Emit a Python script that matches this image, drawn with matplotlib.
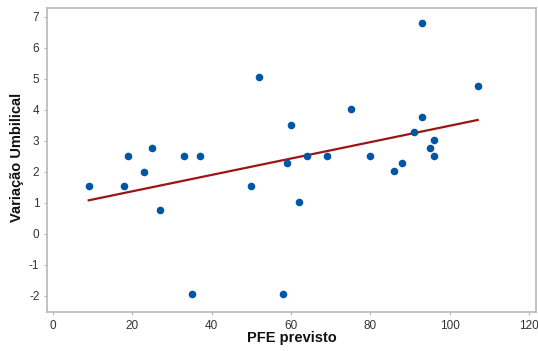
import numpy as np
import matplotlib
matplotlib.use("Agg")
import matplotlib.pyplot as plt

plt.rcParams['font.family'] = ['Liberation Sans', 'DejaVu Sans']
plt.rcParams['axes.unicode_minus'] = False

pfe = [9, 18, 19, 23, 25, 27, 33, 35, 37, 50, 52, 58, 59, 60, 62, 64, 69, 75,
       80, 86, 88, 91, 93, 93, 95, 96, 96, 107]
variacao = [1.54, 1.54, 2.52, 2.0, 2.77, 0.77, 2.52, -1.95, 2.52, 1.54, 5.04, -1.95,
            2.28, 3.51, 1.03, 2.52, 2.52, 4.02, 2.52, 2.01, 2.28, 3.29, 6.79, 3.77,
            2.78, 3.04, 2.52, 4.78]
xticks = [0, 20, 40, 60, 80, 100, 120]
yticks = [-2, -1, 0, 1, 2, 3, 4, 5, 6, 7]

fig = plt.figure(figsize=(5.38, 3.51), dpi=100)
ax = fig.add_axes([0.0874, 0.1111, 0.9089, 0.8661])

ax.scatter(pfe, variacao, s=30, color='#0055a5', zorder=3, linewidths=0)
slope, intercept = np.polyfit(pfe, variacao, 1)
xl = np.array([min(pfe), max(pfe)])
ax.plot(xl, intercept + slope * xl, color='#9b1515', lw=1.6, zorder=2)

ax.set_xlim(-1.5, 121.7)
ax.set_ylim(-2.52, 7.28)
ax.set_xticks(xticks)
ax.set_yticks(yticks)
for s in ax.spines.values():
    s.set_color('#b8b8b8')
    s.set_linewidth(1.2)
ax.tick_params(colors='#b8b8b8', labelcolor='#333333', labelsize=8.5, length=2.5, pad=3)
ax.set_xlabel('PFE previsto', fontsize=10.5, fontweight='bold', va='center', color='#111111')
ax.set_ylabel('Variação Umbilical', fontsize=10.5, fontweight='bold', va='center', color='#111111')
ax.xaxis.set_label_coords(0.5, -0.0855)
ax.yaxis.set_label_coords(-0.062, 0.507)

fig.savefig('out.png', dpi=100)
